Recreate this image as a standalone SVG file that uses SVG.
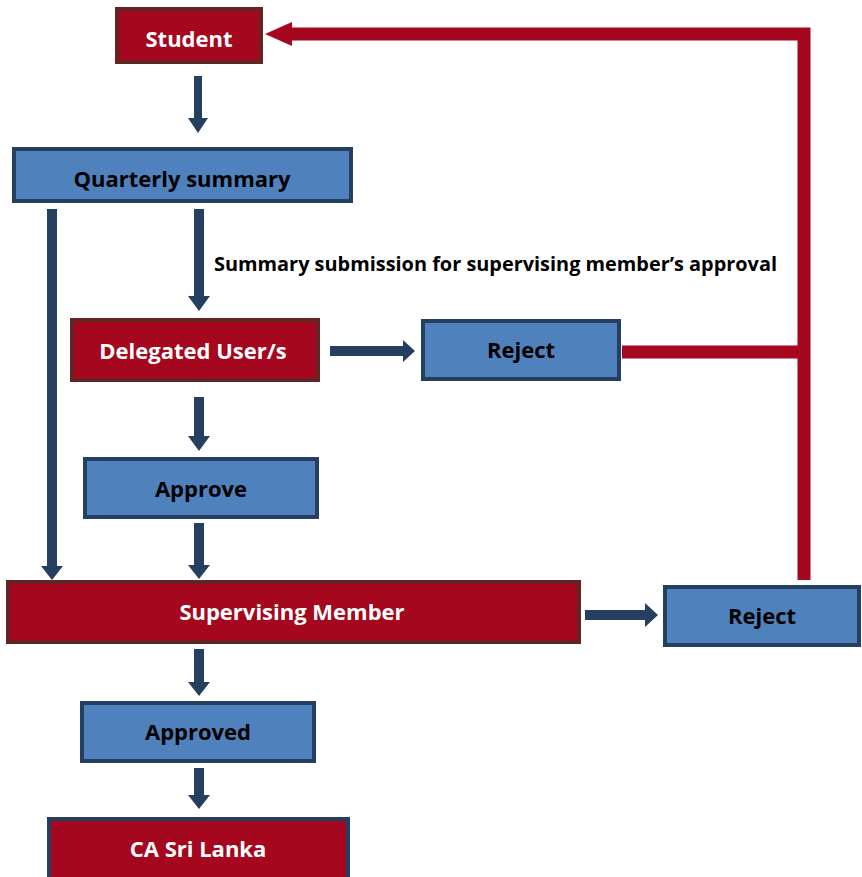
<svg xmlns="http://www.w3.org/2000/svg" width="862" height="877" viewBox="0 0 862 877">
<style>
.red{fill:#A5071E;stroke:#632523;stroke-width:4}
.blue{fill:#4F81BD;stroke:#243F60;stroke-width:4}
.redb{fill:#A5071E;stroke:#243F60;stroke-width:4}
.tw{font-family:"Open Sans","Liberation Sans",sans-serif;font-weight:bold;font-size:22px;fill:#fff;text-anchor:middle}
.tb{font-family:"Open Sans","Liberation Sans",sans-serif;font-weight:bold;font-size:22px;fill:#000;text-anchor:middle}
.lbl{font-family:"Open Sans","Liberation Sans",sans-serif;font-weight:bold;font-size:19.9px;fill:#000}
.ar{fill:#243F60}
.rl{stroke:#A5071E;stroke-width:13;fill:none}
</style>
<g id="connectors">
<polygon class="ar" points="194,76 202,76 202,118 208,118 198,133 188,118 194,118"/>
<polygon class="ar" points="47,209 57,209 57,566 63,566 52,580 41,566 47,566"/>
<polygon class="ar" points="194,209 204,209 204,296 210,296 199,311 188,296 194,296"/>
<polygon class="ar" points="330,346 403,346 403,340 415,351 403,362 403,356 330,356"/>
<polygon class="ar" points="194,397 204,397 204,436 210,436 199,451 188,436 194,436"/>
<polygon class="ar" points="194,523 204,523 204,565 210,565 199,579 188,565 194,565"/>
<polygon class="ar" points="585,610 645,610 645,603 658,615 645,627 645,620 585,620"/>
<polygon class="ar" points="194,649 204,649 204,682 210,682 199,696 188,682 194,682"/>
<polygon class="ar" points="194,768 204,768 204,795 210,795 199,809 188,795 194,795"/>
<polyline class="rl" points="622,352 804,352"/>
<polyline class="rl" points="804,580 804,34 288,34"/>
<polygon fill="#A5071E" points="265,34 292,22 292,46"/>
</g>
<g id="student"><rect class="red" x="117" y="9" width="144" height="53"/><text class="tw" x="189" y="47">Student</text></g>
<g id="quarterly"><rect class="blue" x="14" y="149" width="337" height="52"/><text class="tb" x="182" y="187">Quarterly summary</text></g>
<text class="lbl" x="214" y="271">Summary submission for supervising member’s approval</text>
<g id="delegated"><rect class="red" x="72" y="320" width="246" height="60"/><text class="tw" x="193" y="359">Delegated User/s</text></g>
<g id="reject1"><rect class="blue" x="423" y="321" width="196" height="58"/><text class="tb" x="521" y="358">Reject</text></g>
<g id="approve"><rect class="blue" x="85" y="459" width="232" height="58"/><text class="tb" x="201" y="497">Approve</text></g>
<g id="supervising"><rect class="red" x="8" y="582" width="571" height="60"/><text class="tw" x="292" y="620">Supervising Member</text></g>
<g id="reject2"><rect class="blue" x="665" y="587" width="194" height="58"/><text class="tb" x="762" y="624">Reject</text></g>
<g id="approved"><rect class="blue" x="82" y="703" width="232" height="58"/><text class="tb" x="198" y="740">Approved</text></g>
<g id="ca"><rect class="redb" x="49" y="819" width="299" height="62"/><text class="tw" x="198" y="857">CA Sri Lanka</text></g>
</svg>
